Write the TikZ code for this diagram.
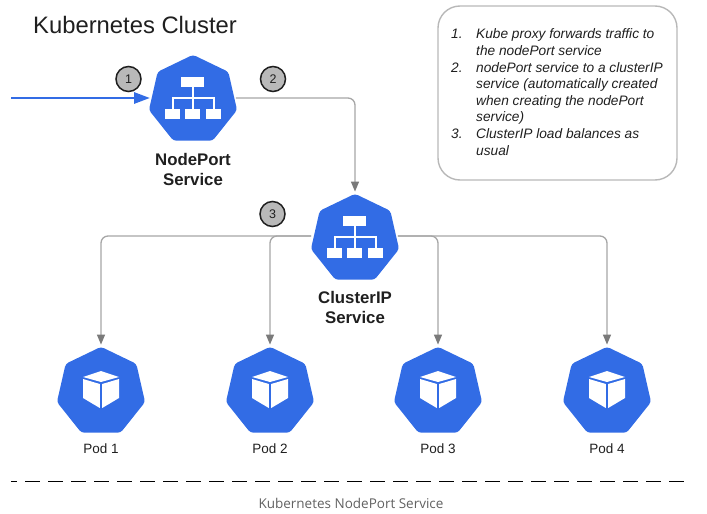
\documentclass[tikz,border=0pt]{standalone}
\usepackage{fontspec}
\setmainfont{Liberation Sans}
\newfontfamily\capfont{Open Sans}
\usetikzlibrary{arrows.meta,shapes.geometric}
\definecolor{kblue}{HTML}{326CE5}
\definecolor{connGray}{HTML}{A6A6A6}
\definecolor{tipGray}{HTML}{7A7A7A}
\definecolor{badgeGray}{HTML}{B9B9B9}
\definecolor{ink}{HTML}{1F1F1F}
\tikzset{
  x=1pt,y=-1pt,
  hepta/.style={shape=regular polygon,regular polygon sides=7,minimum size=90.4pt,inner sep=0pt,fill=kblue,rounded corners=3pt},
  conn/.style={draw=connGray,line width=1.3pt,rounded corners=7pt,-{Triangle[length=10pt,width=8pt,fill=tipGray,color=tipGray]},shorten >=2pt},
  flow/.style={draw=kblue,line width=2.8pt,-{Triangle[length=16pt,width=11pt]},shorten >=1pt},
  badge/.style={circle,draw=ink,line width=1.5pt,fill=badgeGray,minimum size=25pt,inner sep=0pt,font=\fontsize{12.5}{14}\selectfont,text=ink},
  svc/.style={font=\fontsize{16.8}{20.3}\selectfont\bfseries,align=center,text=ink,inner sep=0pt},
  podlabel/.style={font=\fontsize{13.5}{15}\selectfont,text=ink,inner sep=0pt},
  iconline/.style={draw=white,line width=2pt},
}
\newcommand{\svcicon}[1]{%
  \begin{scope}[shift={(#1)}]
    \fill[white] (-12,-22) rectangle (11,-12);
    \fill[white] (-28,10) rectangle (-13,20);
    \fill[white] (-8,10) rectangle (7,20);
    \fill[white] (13,10) rectangle (28,20);
    \draw[iconline] (-0.5,-12) -- (-0.5,10);
    \draw[iconline] (-20.5,10) -- (-20.5,-1) -- (20.5,-1) -- (20.5,10);
  \end{scope}}
\newcommand{\cubeicon}[1]{%
  \begin{scope}[shift={(#1)}]
    \fill[white] (0,-20) -- (18,-14) -- (0,-9) -- (-18,-14) -- cycle;
    \fill[white] (-18,-12) -- (-1.2,-7) -- (-1.2,17) -- (-18,7) -- cycle;
    \fill[white] (18,-12) -- (1.2,-7) -- (1.2,17) -- (18,7) -- cycle;
  \end{scope}}
\begin{document}
\begin{tikzpicture}
\useasboundingbox (0,0) rectangle (707,514);
\node[anchor=base west,inner sep=0pt,font=\fontsize{23.8}{28}\selectfont,text=ink] (title) at (33,34) {Kubernetes Cluster};
% note
\node[draw=black!28,line width=1.4pt,rounded corners=22pt,minimum width=239pt,minimum height=174pt,inner sep=0pt] (note) at (557.5,93) {};
\node[anchor=north west,inner sep=0pt,font=\fontsize{13.7}{16.6}\selectfont\itshape,text=ink] (notetext) at (451,27) {%
  \begin{tabular}{@{}p{25pt}@{}l@{}}
  1. & Kube proxy forwards traffic to\\
     & the nodePort service\\
  2. & nodePort service to a clusterIP\\
     & service (automatically created\\
     & when creating the nodePort\\
     & service)\\
  3. & ClusterIP load balances as\\
     & usual
  \end{tabular}};
% hubs
\node[hepta] (np) at (193,100) {};
\node[hepta] (cl) at (355,239) {};
\node[hepta] (p1) at (101,392) {};
\node[hepta] (p2) at (270,392) {};
\node[hepta] (p3) at (438,392) {};
\node[hepta] (p4) at (607,392) {};
\svcicon{193,99}
\svcicon{355,238}
\cubeicon{101,391}
\cubeicon{270,391}
\cubeicon{438,391}
\cubeicon{607,391}
% labels
\node[svc,anchor=north] (npl) at (193,153) {NodePort\\Service};
\node[svc,anchor=north] (cll) at (355,291) {ClusterIP\\Service};
\node[podlabel] (p1l) at (101,449) {Pod 1};
\node[podlabel] (p2l) at (270,449) {Pod 2};
\node[podlabel] (p3l) at (438,449) {Pod 3};
\node[podlabel] (p4l) at (607,449) {Pod 4};
% badges
\node[badge] (b1) at (128.5,79) {1};
\node[badge] (b2) at (273,79) {2};
\node[badge] (b3) at (272.5,214) {3};
% connectors
\coordinate (src) at (11,98);
\draw[flow] (src) -- ([yshift=2pt]np.west);
\draw[conn] ([shift={(1pt,2pt)}]np.east) -| (cl.north);
\draw[conn] ([shift={(-2pt,3pt)}]cl.west) -| (p1.north);
\draw[conn] ([shift={(-2pt,3pt)}]cl.west) -| (p2.north);
\draw[conn] ([shift={(1pt,3pt)}]cl.east) -| (p3.north);
\draw[conn] ([shift={(1pt,3pt)}]cl.east) -| (p4.north);
% footer
\coordinate (dl) at (11,481.5);
\coordinate (dr) at (686,481.5);
\draw[black,line width=1.2pt,dash pattern=on 15pt off 8pt,dash phase=9pt] (dl) -- (dr);
\node[inner sep=0pt,font=\capfont\fontsize{13.5}{15}\selectfont,text=black!62] (cap) at (351,503) {Kubernetes NodePort Service};
\end{tikzpicture}
\end{document}
